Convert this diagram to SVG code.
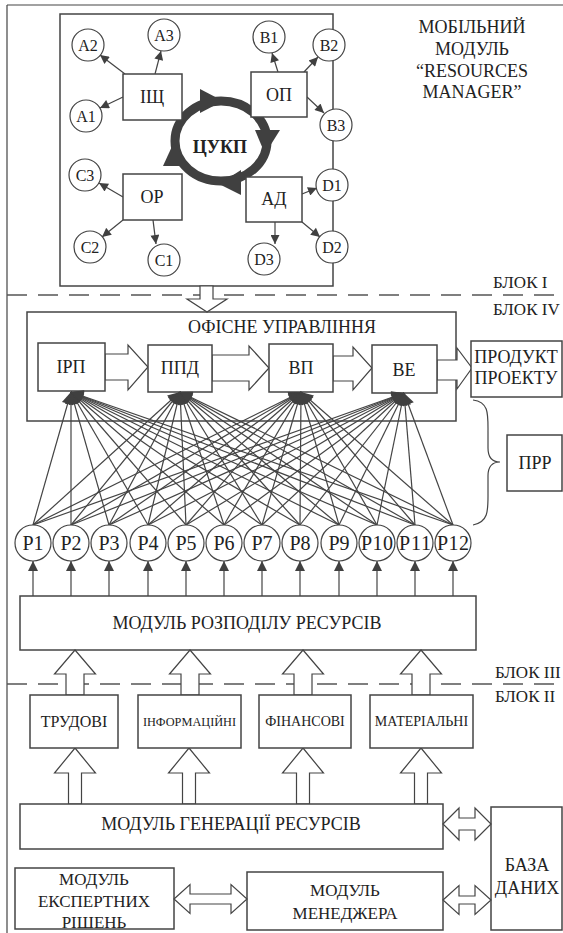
<svg xmlns="http://www.w3.org/2000/svg" width="563" height="933" viewBox="0 0 563 933">
<style>
text{font-family:"Liberation Serif","Times New Roman",serif;fill:#222;text-anchor:middle}
.t18{font-size:18px}.t17{font-size:17px}.t16{font-size:16px}.t20{font-size:20px}
.box{fill:#fff;stroke:#444;stroke-width:1.5}
.circ{fill:#fff;stroke:#444;stroke-width:1.2}
.ln{stroke:#444;stroke-width:1.2;fill:none}
.hol{fill:#fff;stroke:#444;stroke-width:1.2}
.dash{stroke:#555;stroke-width:1.5;stroke-dasharray:20 11}
.lbl{text-anchor:start}
</style>
<defs>
<marker id="sm" viewBox="0 0 10 10" refX="10" refY="5" markerWidth="11" markerHeight="9" markerUnits="userSpaceOnUse" orient="auto"><path d="M0,0L10,5L0,10z" fill="#404040"/></marker>
<marker id="fan" viewBox="0 0 10 10" refX="10" refY="5" markerWidth="16" markerHeight="12" markerUnits="userSpaceOnUse" orient="auto"><path d="M0,0L10,5L0,10z" fill="#404040"/></marker>
<marker id="up" viewBox="0 0 10 10" refX="10" refY="5" markerWidth="14" markerHeight="10" markerUnits="userSpaceOnUse" orient="auto"><path d="M0,0L10,5L0,10z" fill="#404040"/></marker>
</defs>

<g id="frame">
<line class="ln" x1="7" y1="5" x2="563" y2="5" stroke-width="1.5"/>
<line class="ln" x1="7" y1="5" x2="7" y2="933" stroke-width="1.5"/>
<line class="dash" x1="7" y1="295" x2="563" y2="295"/>
<line class="dash" x1="7" y1="684" x2="563" y2="684"/>
<text class="t17 lbl" x="493" y="288">БЛОК I</text>
<text class="t17 lbl" x="493" y="315">БЛОК IV</text>
<text class="t17 lbl" x="495" y="678">БЛОК III</text>
<text class="t17 lbl" x="495" y="702">БЛОК II</text>
</g>

<g id="mobile-module">
<rect class="box" x="60" y="14" width="273" height="272"/>
<text class="t18" x="472" y="33">МОБІЛЬНИЙ</text>
<text class="t18" x="472" y="55">МОДУЛЬ</text>
<text class="t18" x="472" y="77">“RESOURCES</text>
<text class="t18" x="472" y="98">MANAGER”</text>
</g>

<g id="cykp">
<ellipse cx="221" cy="141" rx="46" ry="40" fill="none" stroke="#404040" stroke-width="9"/>
<polygon points="200,89 200,113 223,101" fill="#404040"/>
<polygon points="255,130 280,130 265,154" fill="#404040"/>
<polygon points="241,170 241,195 219,184" fill="#404040"/>
<polygon points="163,166 187,166 174,142" fill="#404040"/>
<text class="t18" x="220" y="153" font-weight="bold">ЦУКП</text>
</g>

<g id="block1-connectors">
<line class="ln" x1="125" y1="74" x2="100" y2="55" marker-end="url(#sm)"/>
<line class="ln" x1="155" y1="74" x2="161" y2="51" marker-end="url(#sm)"/>
<line class="ln" x1="123" y1="97" x2="100" y2="108" marker-end="url(#sm)"/>
<line class="ln" x1="278" y1="72" x2="272" y2="53" marker-end="url(#sm)"/>
<line class="ln" x1="304" y1="72" x2="318" y2="57" marker-end="url(#sm)"/>
<line class="ln" x1="307" y1="97" x2="324" y2="113" marker-end="url(#sm)"/>
<line class="ln" x1="123" y1="197" x2="99" y2="183" marker-end="url(#sm)"/>
<line class="ln" x1="123" y1="220" x2="102" y2="237" marker-end="url(#sm)"/>
<line class="ln" x1="153" y1="220" x2="156" y2="244" marker-end="url(#sm)"/>
<line class="ln" x1="302" y1="194" x2="317" y2="188" marker-end="url(#sm)"/>
<line class="ln" x1="302" y1="222" x2="320" y2="237" marker-end="url(#sm)"/>
<line class="ln" x1="275" y1="222" x2="275" y2="244" marker-end="url(#sm)"/>
</g>

<g id="ISHCH"><rect class="box" x="123" y="74" width="59" height="46"/><text class="t18" x="152" y="103">ІЩ</text></g>
<g id="OP"><rect class="box" x="251" y="72" width="56" height="45"/><text class="t18" x="279" y="101">ОП</text></g>
<g id="OR"><rect class="box" x="123" y="174" width="59" height="46"/><text class="t18" x="152" y="203">ОР</text></g>
<g id="AD"><rect class="box" x="246" y="177" width="56" height="45"/><text class="t18" x="274" y="205">АД</text></g>

<g id="A1"><circle class="circ" cx="86" cy="116" r="16"/><text class="t16" x="86" y="122">A1</text></g>
<g id="A2"><circle class="circ" cx="88" cy="45" r="16"/><text class="t16" x="88" y="51">A2</text></g>
<g id="A3"><circle class="circ" cx="164" cy="35" r="16"/><text class="t16" x="164" y="41">A3</text></g>
<g id="B1"><circle class="circ" cx="269" cy="37" r="16"/><text class="t16" x="269" y="43">B1</text></g>
<g id="B2"><circle class="circ" cx="329" cy="45" r="16"/><text class="t16" x="329" y="51">B2</text></g>
<g id="B3"><circle class="circ" cx="336" cy="125" r="16"/><text class="t16" x="336" y="131">B3</text></g>
<g id="C1"><circle class="circ" cx="164" cy="260" r="16"/><text class="t16" x="164" y="266">C1</text></g>
<g id="C2"><circle class="circ" cx="90" cy="247" r="16"/><text class="t16" x="90" y="253">C2</text></g>
<g id="C3"><circle class="circ" cx="85" cy="175" r="16"/><text class="t16" x="85" y="181">C3</text></g>
<g id="D1"><circle class="circ" cx="332" cy="185" r="16"/><text class="t16" x="332" y="191">D1</text></g>
<g id="D2"><circle class="circ" cx="332" cy="247" r="16"/><text class="t16" x="332" y="253">D2</text></g>
<g id="D3"><circle class="circ" cx="264" cy="259" r="16"/><text class="t16" x="264" y="265">D3</text></g>

<g id="office">
<rect class="box" x="27" y="312" width="429" height="109"/>
<text class="t18" x="282" y="333">ОФІСНЕ УПРАВЛІННЯ</text>
</g>

<g id="office-connectors">
<polygon class="hol" points="200,286 213,286 213,299 227,299 207,312 187,299 200,299"/>
<polygon class="hol" points="105,354 128,354 128,345 148,367 128,390 128,380 105,380"/>
<polygon class="hol" points="212,355 249,355 249,346 269,368 249,390 249,381 212,381"/>
<polygon class="hol" points="333,356 353,356 353,347 372,368 353,390 353,381 333,381"/>
<polygon class="hol" points="437,360 457,360 457,348 472,368 457,389 457,380 437,380"/>
</g>

<g id="IRP"><rect class="box" x="38" y="343" width="67" height="48"/><text class="t18" x="71" y="373">ІРП</text></g>
<g id="PPD"><rect class="box" x="148" y="345" width="64" height="47"/><text class="t18" x="180" y="374">ППД</text></g>
<g id="VP"><rect class="box" x="269" y="344" width="64" height="48"/><text class="t18" x="301" y="374">ВП</text></g>
<g id="VE"><rect class="box" x="372" y="345" width="65" height="48"/><text class="t18" x="404" y="376">ВЕ</text></g>
<g id="product"><rect class="box" x="471" y="341" width="91" height="56"/><text class="t18" x="516" y="363">ПРОДУКТ</text><text class="t18" x="516" y="384">ПРОЕКТУ</text></g>

<g id="PRR">
<path class="ln" stroke-width="2.2" d="M473,400 C489,402 488,414 488,432 L488,448 C488,457 492,462 500,462 C492,462 488,467 488,476 L488,492 C488,510 489,522 473,525"/>
<rect class="box" x="507" y="435" width="55" height="56"/>
<text class="t18" x="535" y="469">ПРР</text>
</g>

<g id="fan-connectors" class="ln" stroke-width="1">
<line x1="33" y1="525" x2="71" y2="392" marker-end="url(#fan)"/><line x1="33" y1="525" x2="180" y2="392" marker-end="url(#fan)"/><line x1="33" y1="525" x2="301" y2="392" marker-end="url(#fan)"/><line x1="33" y1="525" x2="404" y2="393" marker-end="url(#fan)"/>
<line x1="71" y1="525" x2="71" y2="392" marker-end="url(#fan)"/><line x1="71" y1="525" x2="180" y2="392" marker-end="url(#fan)"/><line x1="71" y1="525" x2="301" y2="392" marker-end="url(#fan)"/><line x1="71" y1="525" x2="404" y2="393" marker-end="url(#fan)"/>
<line x1="109" y1="525" x2="71" y2="392" marker-end="url(#fan)"/><line x1="109" y1="525" x2="180" y2="392" marker-end="url(#fan)"/><line x1="109" y1="525" x2="301" y2="392" marker-end="url(#fan)"/><line x1="109" y1="525" x2="404" y2="393" marker-end="url(#fan)"/>
<line x1="148" y1="525" x2="71" y2="392" marker-end="url(#fan)"/><line x1="148" y1="525" x2="180" y2="392" marker-end="url(#fan)"/><line x1="148" y1="525" x2="301" y2="392" marker-end="url(#fan)"/><line x1="148" y1="525" x2="404" y2="393" marker-end="url(#fan)"/>
<line x1="186" y1="525" x2="71" y2="392" marker-end="url(#fan)"/><line x1="186" y1="525" x2="180" y2="392" marker-end="url(#fan)"/><line x1="186" y1="525" x2="301" y2="392" marker-end="url(#fan)"/><line x1="186" y1="525" x2="404" y2="393" marker-end="url(#fan)"/>
<line x1="224" y1="525" x2="71" y2="392" marker-end="url(#fan)"/><line x1="224" y1="525" x2="180" y2="392" marker-end="url(#fan)"/><line x1="224" y1="525" x2="301" y2="392" marker-end="url(#fan)"/><line x1="224" y1="525" x2="404" y2="393" marker-end="url(#fan)"/>
<line x1="262" y1="525" x2="71" y2="392" marker-end="url(#fan)"/><line x1="262" y1="525" x2="180" y2="392" marker-end="url(#fan)"/><line x1="262" y1="525" x2="301" y2="392" marker-end="url(#fan)"/><line x1="262" y1="525" x2="404" y2="393" marker-end="url(#fan)"/>
<line x1="300" y1="525" x2="71" y2="392" marker-end="url(#fan)"/><line x1="300" y1="525" x2="180" y2="392" marker-end="url(#fan)"/><line x1="300" y1="525" x2="301" y2="392" marker-end="url(#fan)"/><line x1="300" y1="525" x2="404" y2="393" marker-end="url(#fan)"/>
<line x1="339" y1="525" x2="71" y2="392" marker-end="url(#fan)"/><line x1="339" y1="525" x2="180" y2="392" marker-end="url(#fan)"/><line x1="339" y1="525" x2="301" y2="392" marker-end="url(#fan)"/><line x1="339" y1="525" x2="404" y2="393" marker-end="url(#fan)"/>
<line x1="377" y1="525" x2="71" y2="392" marker-end="url(#fan)"/><line x1="377" y1="525" x2="180" y2="392" marker-end="url(#fan)"/><line x1="377" y1="525" x2="301" y2="392" marker-end="url(#fan)"/><line x1="377" y1="525" x2="404" y2="393" marker-end="url(#fan)"/>
<line x1="415" y1="525" x2="71" y2="392" marker-end="url(#fan)"/><line x1="415" y1="525" x2="180" y2="392" marker-end="url(#fan)"/><line x1="415" y1="525" x2="301" y2="392" marker-end="url(#fan)"/><line x1="415" y1="525" x2="404" y2="393" marker-end="url(#fan)"/>
<line x1="453" y1="525" x2="71" y2="392" marker-end="url(#fan)"/><line x1="453" y1="525" x2="180" y2="392" marker-end="url(#fan)"/><line x1="453" y1="525" x2="301" y2="392" marker-end="url(#fan)"/><line x1="453" y1="525" x2="404" y2="393" marker-end="url(#fan)"/>
</g>

<g id="P1"><circle class="circ" cx="33" cy="543" r="18"/><text class="t20" x="33" y="550">Р1</text></g>
<g id="P2"><circle class="circ" cx="71" cy="543" r="18"/><text class="t20" x="71" y="550">Р2</text></g>
<g id="P3"><circle class="circ" cx="109" cy="543" r="18"/><text class="t20" x="109" y="550">Р3</text></g>
<g id="P4"><circle class="circ" cx="148" cy="543" r="18"/><text class="t20" x="148" y="550">Р4</text></g>
<g id="P5"><circle class="circ" cx="186" cy="543" r="18"/><text class="t20" x="186" y="550">Р5</text></g>
<g id="P6"><circle class="circ" cx="224" cy="543" r="18"/><text class="t20" x="224" y="550">Р6</text></g>
<g id="P7"><circle class="circ" cx="262" cy="543" r="18"/><text class="t20" x="262" y="550">Р7</text></g>
<g id="P8"><circle class="circ" cx="300" cy="543" r="18"/><text class="t20" x="300" y="550">Р8</text></g>
<g id="P9"><circle class="circ" cx="339" cy="543" r="18"/><text class="t20" x="339" y="550">Р9</text></g>
<g id="P10"><circle class="circ" cx="377" cy="543" r="18"/><text class="t20" x="377" y="550" textLength="32">Р10</text></g>
<g id="P11"><circle class="circ" cx="415" cy="543" r="18"/><text class="t20" x="415" y="550" textLength="32">Р11</text></g>
<g id="P12"><circle class="circ" cx="453" cy="543" r="18"/><text class="t20" x="453" y="550" textLength="32">Р12</text></g>

<g id="dist-connectors" class="ln">
<line x1="33" y1="596" x2="33" y2="561" marker-end="url(#up)"/>
<line x1="71" y1="596" x2="71" y2="561" marker-end="url(#up)"/>
<line x1="109" y1="596" x2="109" y2="561" marker-end="url(#up)"/>
<line x1="148" y1="596" x2="148" y2="561" marker-end="url(#up)"/>
<line x1="186" y1="596" x2="186" y2="561" marker-end="url(#up)"/>
<line x1="224" y1="596" x2="224" y2="561" marker-end="url(#up)"/>
<line x1="262" y1="596" x2="262" y2="561" marker-end="url(#up)"/>
<line x1="300" y1="596" x2="300" y2="561" marker-end="url(#up)"/>
<line x1="339" y1="596" x2="339" y2="561" marker-end="url(#up)"/>
<line x1="377" y1="596" x2="377" y2="561" marker-end="url(#up)"/>
<line x1="415" y1="596" x2="415" y2="561" marker-end="url(#up)"/>
<line x1="453" y1="596" x2="453" y2="561" marker-end="url(#up)"/>
</g>

<g id="dist-module"><rect class="box" x="20" y="596" width="456" height="54"/><text class="t18" x="247" y="629">МОДУЛЬ РОЗПОДІЛУ РЕСУРСІВ</text></g>

<g id="resource-connectors">
<polygon class="hol" points="75,650 95.5,674 84,674 84,695 66,695 66,674 54.5,674"/>
<polygon class="hol" points="190,650 210.5,674 199,674 199,695 181,695 181,674 169.5,674"/>
<polygon class="hol" points="303,650 323.5,674 312,674 312,695 294,695 294,674 282.5,674"/>
<polygon class="hol" points="421,650 441.5,674 430,674 430,695 412,695 412,674 400.5,674"/>
<polygon class="hol" points="75,748 95.5,773 81.5,773 81.5,804 68.5,804 68.5,773 54.5,773"/>
<polygon class="hol" points="189,748 209.5,773 195.5,773 195.5,804 182.5,804 182.5,773 168.5,773"/>
<polygon class="hol" points="303,748 323.5,773 309.5,773 309.5,804 296.5,804 296.5,773 282.5,773"/>
<polygon class="hol" points="421,748 441.5,773 427.5,773 427.5,804 414.5,804 414.5,773 400.5,773"/>
</g>

<g id="labour"><rect class="box" x="30" y="695" width="88" height="53"/><text class="t16" x="74" y="727">ТРУДОВІ</text></g>
<g id="info"><rect class="box" x="138" y="695" width="103" height="53"/><text x="189.5" y="726" style="font-size:12.3px">ІНФОРМАЦІЙНІ</text></g>
<g id="finance"><rect class="box" x="259" y="695" width="92" height="53"/><text x="305" y="726" style="font-size:14px">ФІНАНСОВІ</text></g>
<g id="material"><rect class="box" x="370" y="695" width="103" height="53"/><text x="421.5" y="726" style="font-size:14px">МАТЕРІАЛЬНІ</text></g>

<g id="gen-module"><rect class="box" x="20" y="804" width="423" height="45"/><text class="t18" x="231" y="830">МОДУЛЬ ГЕНЕРАЦІЇ РЕСУРСІВ</text></g>

<g id="db"><rect class="box" x="491" y="807" width="71" height="123"/><text class="t18" x="527" y="871">БАЗА</text><text class="t18" x="527" y="894">ДАНИХ</text></g>

<g id="expert"><rect class="box" x="15" y="868" width="159" height="61"/><text class="t17" x="94" y="885">МОДУЛЬ</text><text class="t17" x="94" y="907">ЕКСПЕРТНИХ</text><text class="t17" x="94" y="928">РІШЕНЬ</text></g>

<g id="manager"><rect class="box" x="247" y="872" width="196" height="58"/><text class="t17" x="345" y="896">МОДУЛЬ</text><text class="t17" x="345" y="919">МЕНЕДЖЕРА</text></g>

<g id="bottom-connectors">
<polygon class="hol" points="443,824 459,808 459,818 475,818 475,808 491,824 475,840 475,830 459,830 459,840"/>
<polygon class="hol" points="443,900 459,885.5 459,896 475,896 475,885.5 491,900 475,914.5 475,904 459,904 459,914.5"/>
<polygon class="hol" points="174,899 190,884.5 190,894 231,894 231,884.5 247,899 231,913.5 231,904 190,904 190,913.5"/>
</g>
</svg>
